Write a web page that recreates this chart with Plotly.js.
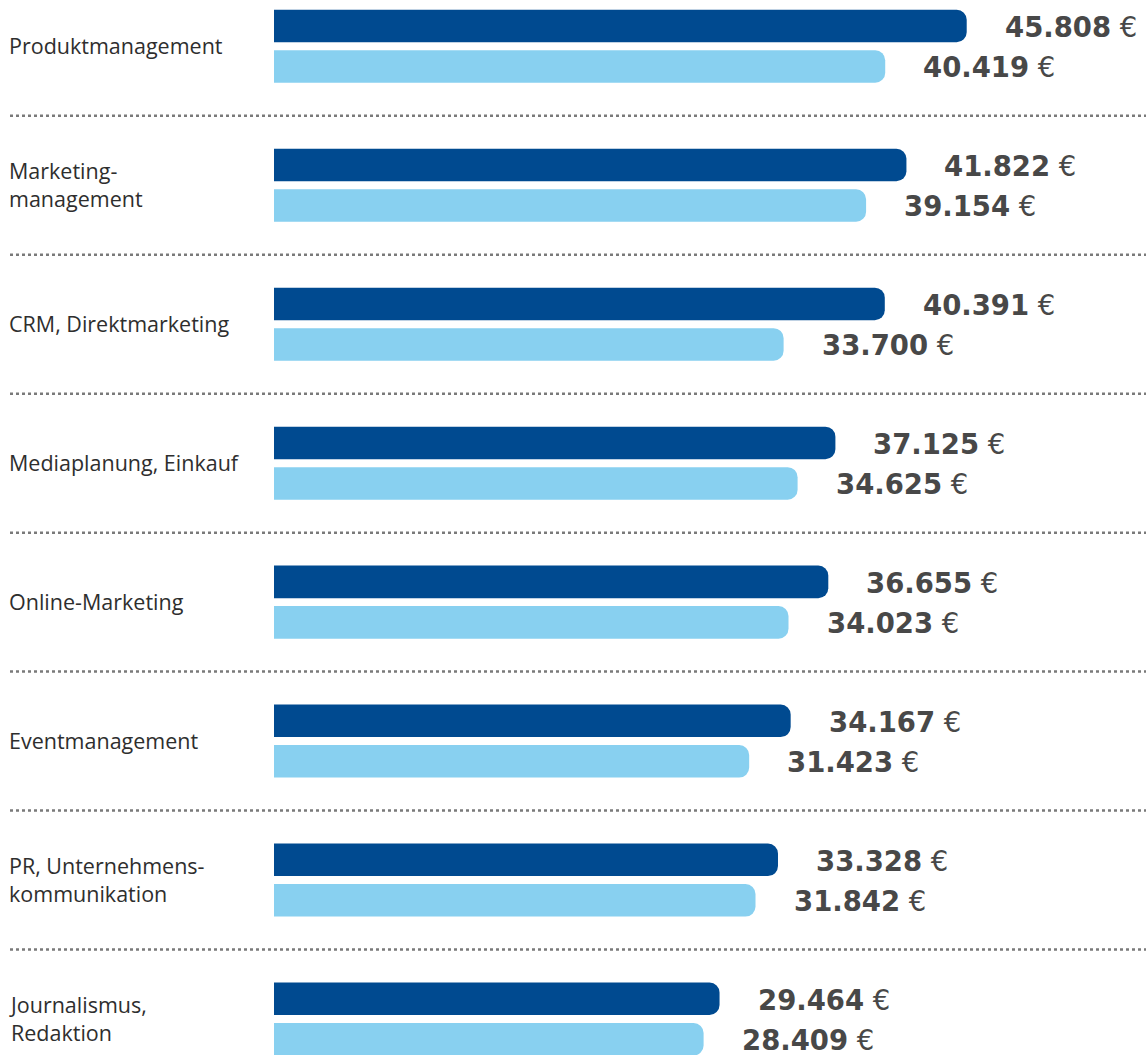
<!DOCTYPE html>
<html>
<head>
<meta charset="utf-8">
<script src="https://cdn.plot.ly/plotly-3.0.1.min.js"></script>
<style>
html,body{margin:0;padding:0;background:#fff;}
#chart{width:1146px;height:1055px;}
</style>
</head>
<body>
<div id="chart"></div>
<script>
const categories = [
  "Produktmanagement",
  "Marketing-<br>management",
  "CRM, Direktmarketing",
  "Mediaplanung, Einkauf",
  "Online-Marketing",
  "Eventmanagement",
  "PR, Unternehmens-<br>kommunikation",
  "Journalismus,<br>Redaktion"
];
const seriesDark = [45808, 41822, 40391, 37125, 36655, 34167, 33328, 29464];
const seriesLight = [40419, 39154, 33700, 34625, 34023, 31423, 31842, 28409];

const DARK = '#004a90';
const LIGHT = '#88d0f0';
const TXT = '#484848';

function fmt(v){ return String(v).replace(/\B(?=(\d{3})+(?!\d))/g, '.'); }

const traces = [
  {type:'bar', orientation:'h', name:'dark', y:categories, x:seriesDark,
   marker:{color:DARK, cornerradius:10}, hoverinfo:'skip'},
  {type:'bar', orientation:'h', name:'light', y:categories, x:seriesLight,
   marker:{color:LIGHT, cornerradius:10}, hoverinfo:'skip'}
];

const annotations = [];
const shapes = [];
const L = 274, W = 1146 - 274;
categories.forEach((c, i) => {
  annotations.push({xref:'paper', yref:'y', x:0, y:c, xshift:-267, yshift:1, xanchor:'left', yanchor:'middle',
    align:'left', text:c, showarrow:false,
    font:{family:'Open Sans', size:21.5, color:'#2e2e2e'}});
  annotations.push({xref:'x', yref:'y', x:seriesDark[i], y:c, xanchor:'left', yanchor:'middle',
    xshift:36, yshift:19, showarrow:false,
    text:'<b>' + fmt(seriesDark[i]) + '</b> €',
    font:{family:'DejaVu Sans', size:27.5, color:TXT}});
  annotations.push({xref:'x', yref:'y', x:seriesLight[i], y:c, xanchor:'left', yanchor:'middle',
    xshift:36, yshift:-21, showarrow:false,
    text:'<b>' + fmt(seriesLight[i]) + '</b> €',
    font:{family:'DejaVu Sans', size:27.5, color:TXT}});
  if (i < categories.length - 1) {
    shapes.push({type:'line', xref:'paper', yref:'y', x0:-264/W, x1:1, y0:i+0.5, y1:i+0.5,
      line:{color:'#7a7a7a', width:2.5, dash:'dot'}});
  }
});

const layout = {
  width:1146, height:1055,
  margin:{l:L, r:0, t:0, b:0, pad:0},
  paper_bgcolor:'#fff', plot_bgcolor:'#fff',
  showlegend:false,
  barmode:'group', bargap:0.417, bargroupgap:0.197,
  hovermode:false,
  xaxis:{range:[0, W/0.015122], showgrid:false, zeroline:false, showticklabels:false, showline:false, fixedrange:true},
  yaxis:{type:'category', categoryorder:'array', categoryarray:categories,
    range:[7.259, -0.333], showgrid:false, zeroline:false, showticklabels:false, showline:false, fixedrange:true},
  annotations:annotations,
  shapes:shapes
};

Plotly.newPlot('chart', traces, layout, {displayModeBar:false, staticPlot:true});
</script>
</body>
</html>
